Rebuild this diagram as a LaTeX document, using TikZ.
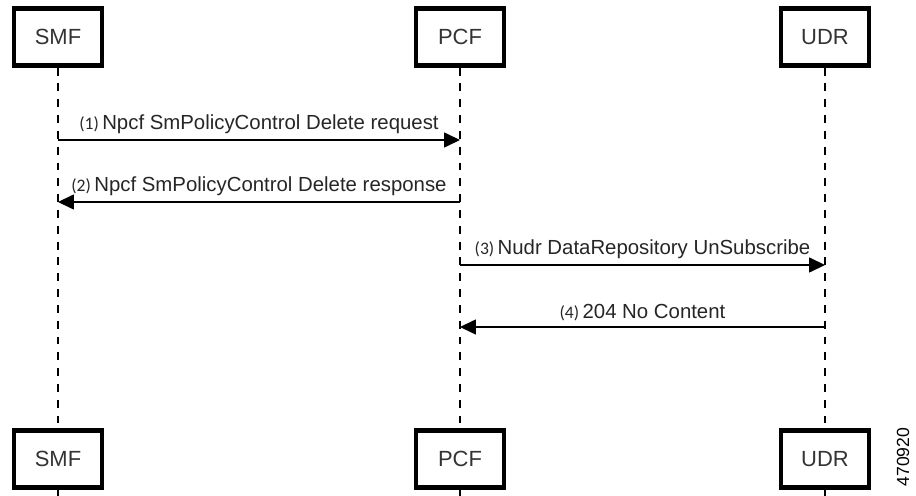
\documentclass[tikz,border=0pt]{standalone}
\usepackage{fontspec}
\setmainfont{Liberation Sans}
\newfontfamily\numfont{Carlito}
\usetikzlibrary{arrows.meta}
\tikzset{
  nfbox/.style={draw, line width=2.5pt, minimum width=1.75cm, minimum height=1.14cm, font=\fontsize{12.5}{14}\selectfont, text=black!80},
  lifeline/.style={line width=0.7pt, dash pattern=on 4.5pt off 4.5pt},
  msg/.style={line width=0.7pt, -{Triangle[length=9pt,width=8.5pt]}},
  msglabel/.style={above=0pt, font=\fontsize{11.6}{13}\selectfont, text=black!85}
}
\newcommand{\stepno}[1]{{\numfont\fontsize{10}{11}\selectfont(#1)}\,}
\begin{document}
\begin{tikzpicture}[x=0.02cm, y=-0.02cm]
\useasboundingbox (0,0) rectangle (916,496);
% top boxes
\node[nfbox] (smfT) at (58,37) {SMF};
\node[nfbox] (pcfT) at (460,37) {PCF};
\node[nfbox] (udrT) at (825,37) {UDR};
% bottom boxes
\node[nfbox] (smfB) at (58,459) {SMF};
\node[nfbox] (pcfB) at (460,459) {PCF};
\node[nfbox] (udrB) at (825,459) {UDR};
% lifelines
\draw[lifeline] (smfT.south) -- (smfB.north);
\draw[lifeline] (pcfT.south) -- (pcfB.north);
\draw[lifeline] (udrT.south) -- (udrB.north);
\coordinate (smfE) at (58,496);
\coordinate (pcfE) at (460,496);
\coordinate (udrE) at (825,496);
\draw[line width=0.7pt] (smfB.south) -- (smfE);
\draw[line width=0.7pt] (pcfB.south) -- (pcfE);
\draw[line width=0.7pt] (udrB.south) -- (udrE);
% message points
\coordinate (s1) at (58,140);  \coordinate (p1) at (460,140);
\coordinate (s2) at (58,202);  \coordinate (p2) at (460,202);
\coordinate (p3) at (460,265); \coordinate (u3) at (825,265);
\coordinate (p4) at (460,327); \coordinate (u4) at (825,327);
% messages
\draw[msg] (s1) -- node[msglabel]{\stepno{1}Npcf SmPolicyControl Delete request} (p1);
\draw[msg] (p2) -- node[msglabel]{\stepno{2}Npcf SmPolicyControl Delete response} (s2);
\draw[msg] (p3) -- node[msglabel]{\stepno{3}Nudr DataRepository UnSubscribe} (u3);
\draw[msg] (u4) -- node[msglabel]{\stepno{4}204 No Content} (p4);
% figure number
\node[rotate=90, font=\fontsize{10}{11}\selectfont] (figno) at (903,457) {470920};
\end{tikzpicture}
\end{document}
